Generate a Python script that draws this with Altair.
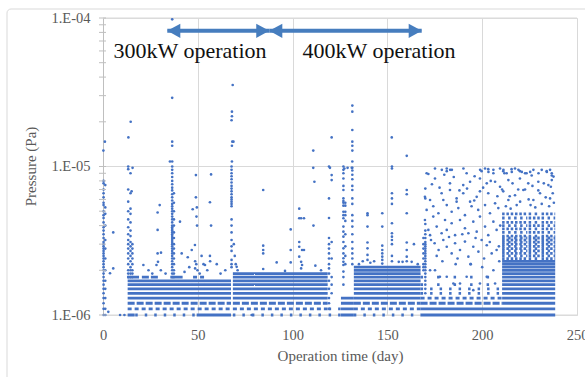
import altair as alt
import pandas as pd

# ---------------- data (pressure values in units of 1e-6 Pa) ----------------
x_tick_values = [0, 50, 100, 150, 200, 250]
y_decades = [1.0, 10.0, 100.0]
y_tick_marks = [1, 2, 3, 4, 5, 6, 7, 8, 9, 10, 20, 30, 40, 50, 60, 70, 80, 90, 100]

# quantised readings forming horizontal bands: (start day, end day, levels, style)
bands = [
    # 300 kW operation
    (13.0, 67.5, [1.3, 1.4, 1.5, 1.6, 1.7], "solid"),
    (13.0, 67.5, [1.2], "dash"),
    (13.0, 67.5, [1.1], "dash2"),
    (13.0, 16.7, [1.0], "solid"),
    (17.0, 49.0, [1.0], "sparse"),
    (49.4, 67.5, [1.0], "solid"),
    (12.8, 19.0, [1.8], "solid"),
    (20.5, 29.5, [1.8], "dash"),
    (35.5, 42.0, [1.8], "solid"),
    (47.5, 54.0, [1.8], "dash2"),
    # 400 kW operation, first part
    (68.5, 118.5, [1.3, 1.4, 1.5, 1.6, 1.7, 1.8, 1.9], "solid"),
    (68.5, 118.5, [1.2], "dash"),
    (68.5, 118.5, [1.1], "dash2"),
    (68.5, 118.5, [1.0], "sparse"),
    (119.0, 125.5, [1.0, 1.1], "sparse"),
    (125.5, 132.3, [1.0, 1.1, 1.2, 1.3], "solid"),
    # 400 kW operation, second part
    (132.3, 167.5, [1.3, 1.4, 1.5, 1.6, 1.7, 1.8, 1.9, 2.0, 2.1], "solid"),
    (132.3, 167.5, [1.2], "dash"),
    (132.3, 167.5, [1.1], "dash2"),
    (132.3, 167.5, [1.0], "sparse"),
    # after day 167
    (167.5, 238.5, [1.0, 1.1], "solid"),
    (167.5, 210.5, [1.2], "dash"),
    (167.5, 210.5, [1.3], "dash2"),
    (167.5, 210.5, [1.4, 1.5], "sparse"),
    (167.5, 210.5, [1.6, 1.8], "sparser"),
    (210.5, 238.5, [1.2, 1.3, 1.4, 1.5, 1.6, 1.7, 1.8, 1.9, 2.0, 2.1, 2.2, 2.3], "solid"),
    (210.5, 223.8, [2.4, 2.6, 2.8, 3.0, 3.2, 3.4, 3.8, 4.2, 4.8], "speck"),
    (210.5, 223.8, [2.5, 2.7, 2.9, 3.1, 3.3, 3.6, 4.0, 4.5], "speck2"),
    (224.5, 230.6, [2.4, 2.6, 2.8, 3.0, 3.2, 3.4, 3.8, 4.2, 4.8], "speck2"),
    (224.5, 230.6, [2.5, 2.7, 2.9, 3.1, 3.3, 3.6, 4.0, 4.5], "speck"),
    (231.3, 238.5, [2.4, 2.6, 2.8, 3.0, 3.2, 3.4, 3.8, 4.2, 4.8], "speck"),
    (231.3, 238.5, [2.5, 2.7, 2.9, 3.1, 3.3, 3.6, 4.0, 4.5], "speck2"),
]

# vertical bursts of readings: (day, values)
spikes = [
    (0.3, [8.0, 7.7, 7.0, 6.6, 6.2, 5.7, 5.5, 5.0, 4.7, 4.5, 4.2, 3.9, 3.7, 3.5, 3.3, 3.1, 3.0,
           2.9, 2.8, 2.7, 2.6, 2.5, 2.4, 2.3, 2.2, 2.1, 2.0, 1.9, 1.8, 1.7, 1.6, 1.5, 1.4, 1.3,
           1.2, 1.1, 1.0]),
    (1.2, [7.5, 5.3, 4.8, 4.0, 3.2, 2.8, 2.4, 2.0, 1.7, 1.5, 1.3, 1.1, 1.0]),
    (13.3, [10.0, 9.6, 7.0, 5.8, 5.0, 4.4, 3.9, 3.5, 3.2, 3.0, 2.8, 2.6, 2.4, 2.2, 2.0, 1.9, 1.8]),
    (14.5, [9.0, 6.6, 5.2, 4.8, 4.2, 3.7, 3.4, 3.1, 2.9, 2.7, 2.5, 2.3, 2.1, 2.0, 1.9, 1.8]),
    (15.5, [3.0, 2.8, 2.6, 2.4, 2.2, 2.0, 1.9, 1.8]),
    (36.5, [10.0, 9.5, 9.0, 8.5, 8.0, 7.6, 7.2, 6.9, 6.5, 6.2, 5.9, 5.6, 5.4, 5.2, 5.0, 4.8, 4.6,
            4.4, 4.2, 4.0, 3.9, 3.8, 3.7, 3.6, 3.5, 3.4, 3.3, 3.2, 3.1, 3.0, 2.9, 2.8, 2.7, 2.6,
            2.5, 2.4, 2.3, 2.2, 2.1, 2.0, 1.9, 1.8]),
    (37.4, [6.6, 5.7, 5.0, 4.4, 4.0, 3.6, 3.3, 3.0, 2.8, 2.6, 2.4, 2.2, 2.0, 1.9, 1.8]),
    (67.8, [10.0, 9.5, 9.0, 8.6, 8.2, 7.8, 7.4, 7.1, 6.8, 6.5, 6.2, 6.0, 5.8, 5.6, 5.4, 4.4,
            4.0, 3.6, 3.2, 2.9, 2.7, 2.35, 2.2, 2.1]),
    (119.2, [10.0, 6.1, 4.5, 3.3, 3.0, 2.8, 2.6, 2.4, 2.2, 2.06, 1.9, 1.7, 1.5, 1.3, 1.2, 1.1]),
    (120.6, [8.75, 8.1, 3.1, 2.4, 1.8, 1.6, 1.4]),
    (126.8, [10.0, 9.5, 9.0, 8.3, 7.4, 6.95, 6.1, 5.85, 5.7, 5.45, 4.96, 4.7, 4.48, 3.94, 3.64,
             3.37, 3.1, 2.81, 2.6, 2.41, 2.28, 2.17, 1.96, 1.8, 1.6]),
    (127.8, [5.7, 5.45, 4.96, 4.7, 4.3, 3.5, 2.9, 2.5, 2.2]),
    (131.5, [25.7, 23.4, 17.6, 14.7, 13.8, 12.8, 10.8, 9.8, 9.4, 8.8, 8.2, 7.4, 6.95, 6.1, 5.6,
             4.7, 4.3, 3.94, 3.5, 3.1, 2.8, 2.6, 2.4, 2.2]),
    (139.5, [4.84, 4.7, 3.94, 3.08, 2.81, 2.54, 2.35]),
    (147.3, [4.84, 3.94, 2.93, 2.74, 2.6, 2.47, 2.35, 2.22]),
    (152.4, [10.0, 9.7, 6.6, 6.1, 5.6, 4.15, 3.55, 3.37, 3.2, 3.0, 2.5, 2.3]),
    (160.2, [11.8, 6.95, 6.5, 4.84, 3.08, 2.74, 2.47, 2.3]),
    (169.0, [3.3, 3.0, 2.8, 2.6, 2.4, 2.2, 2.1, 2.0]),
    (170.0, [7.1, 6.1, 4.1, 3.7, 3.5, 3.3, 3.1, 3.0, 2.9, 2.8, 2.7, 2.6, 2.5, 2.4, 2.3, 2.2, 2.1,
             2.0, 1.9, 1.8, 1.7, 1.6, 1.5, 1.4]),
]

# isolated readings: (day, value)
scatter = [
    (0.2, 12.8), (1.0, 14.7), (2.8, 1.05), (3.7, 1.91), (5.4, 2.06), (5.4, 3.6), (9.0, 1.0),
    (11.3, 1.0), (13.4, 15.7), (14.6, 20.0), (15.6, 9.8), (15.1, 6.8),
    (36.5, 98.0), (36.5, 29.0), (36.5, 14.7), (36.5, 13.8), (36.5, 10.8), (35.3, 10.8),
    (21.3, 2.17), (24.0, 2.0), (28.2, 2.17), (29.0, 2.28), (28.8, 2.6), (30.6, 2.63),
    (29.9, 5.5), (28.8, 4.9), (28.8, 3.74), (30.5, 2.0), (33.0, 1.9), (26.0, 1.9),
    (40.6, 4.25), (41.5, 2.6), (44.7, 2.45), (46.8, 2.74), (48.5, 2.96), (47.3, 5.15),
    (49.0, 8.75), (49.0, 6.2), (49.5, 5.3), (49.3, 4.6), (49.6, 4.0), (48.6, 2.3), (49.2, 2.2),
    (48.6, 2.06), (49.8, 2.0), (51.0, 1.9), (52.0, 2.5), (53.0, 2.2), (53.8, 2.17), (55.0, 2.0),
    (57.0, 8.85), (56.4, 5.74), (57.0, 4.0), (56.4, 2.5), (56.5, 2.3), (60.0, 2.2), (62.0, 1.9),
    (64.5, 2.0), (43.0, 1.95), (45.5, 2.1),
    (68.4, 35.4), (68.0, 23.4), (68.0, 21.8), (67.8, 20.5), (68.2, 14.7), (68.8, 14.7),
    (68.0, 13.8), (68.0, 10.8), (69.0, 3.0), (69.5, 2.5), (70.0, 2.2), (70.5, 2.11), (71.0, 2.0),
    (78.4, 1.0), (84.5, 6.95), (84.5, 2.93), (84.5, 2.74), (84.5, 2.6), (84.5, 2.04),
    (91.6, 2.26), (96.0, 1.98), (99.0, 3.77), (99.0, 2.74), (99.0, 2.26),
    (103.5, 5.2), (103.5, 4.48), (104.5, 4.48), (103.5, 3.1), (103.5, 2.88), (105.0, 2.74),
    (106.0, 2.74), (103.5, 2.47), (104.5, 2.28), (105.0, 2.17), (104.5, 2.06), (106.0, 4.48),
    (110.9, 12.8), (110.9, 9.8), (111.5, 7.9), (111.0, 4.0), (112.0, 2.15), (115.0, 2.0),
    (119.7, 9.8), (120.6, 15.7), (127.3, 9.7), (129.0, 9.8), (131.2, 9.8),
    (135.0, 2.2), (137.0, 2.3), (141.0, 2.25), (143.0, 2.3), (152.3, 15.7), (156.0, 2.28),
    (158.0, 2.28), (162.8, 2.28), (166.0, 2.2), (164.0, 3.0),
    # after day 167: ceiling row near 1e-5
    (175.1, 9.7), (178.7, 9.5), (181.3, 9.7), (183.1, 9.5), (190.1, 9.7), (198.9, 9.5),
    (201.5, 9.7), (203.3, 9.2), (205.9, 9.5), (209.4, 9.7), (211.2, 9.5), (211.7, 9.0),
    (215.6, 9.2), (217.3, 9.7), (219.1, 9.5), (220.9, 9.2), (222.6, 9.0), (225.3, 9.2),
    (227.0, 9.5), (229.7, 9.0), (231.4, 9.5), (234.1, 9.2), (235.8, 9.5), (236.7, 9.0),
    (170.7, 9.0), (171.6, 8.9), (181.3, 9.3), (184.0, 9.5), (191.8, 9.0), (199.7, 9.3),
    (203.2, 9.6), (205.9, 9.0), (211.1, 9.3), (212.9, 9.0), (215.5, 9.6), (219.9, 9.3),
    (223.4, 9.0), (226.1, 8.7), (234.0, 9.3), (236.7, 8.7), (237.6, 8.55),
    (175.1, 8.3), (183.0, 7.7), (190.0, 7.5), (193.6, 7.9), (198.8, 8.3), (202.4, 7.7),
    (206.8, 7.9), (209.4, 7.3), (213.8, 8.1), (219.9, 8.3), (224.3, 7.7), (229.6, 7.9),
    (234.9, 7.5), (236.7, 8.1),
    (169.8, 6.25), (172.5, 5.95), (178.6, 6.6), (179.5, 5.95), (183.0, 6.95), (186.5, 6.1),
    (190.0, 6.6), (193.6, 5.8), (197.1, 6.25), (198.8, 6.8), (203.2, 6.6), (206.8, 5.65),
    (211.1, 6.8), (213.8, 5.95), (217.3, 6.4), (221.7, 6.95), (227.0, 5.95), (230.5, 6.6),
    (235.8, 6.1),
    (210.5, 7.0), (214.5, 6.3), (216.0, 7.7), (218.2, 5.5), (220.0, 5.8), (222.6, 7.0),
    (224.5, 6.0), (226.5, 7.4), (228.0, 5.3), (229.6, 6.9), (231.4, 5.6), (232.5, 7.7),
    (233.5, 6.2), (235.3, 5.4), (237.2, 6.6), (237.8, 5.7), (236.2, 7.3), (212.5, 5.4),
    (215.0, 5.2), (219.0, 7.0), (225.5, 5.5),
    (170.7, 5.1), (174.2, 5.4), (176.9, 4.84), (181.3, 5.5), (183.9, 4.96), (187.4, 5.25),
    (190.9, 4.7), (194.4, 5.4), (197.9, 5.1), (201.5, 5.5), (204.1, 4.84), (208.5, 5.25),
    (169.8, 4.36), (171.6, 3.74), (172.5, 3.45), (174.2, 4.6), (176.0, 3.94), (178.6, 3.55),
    (180.4, 4.36), (181.3, 3.74), (183.9, 4.15), (185.7, 3.45), (188.3, 4.36), (190.9, 3.84),
    (192.7, 3.55), (195.3, 4.25), (197.1, 3.64), (198.8, 4.6), (201.5, 3.94), (203.2, 3.45),
    (205.9, 4.25), (207.6, 3.74),
    (174.9, 3.04), (177.0, 2.74), (176.0, 2.5), (179.5, 3.2), (181.3, 2.88), (183.9, 2.6),
    (185.7, 3.04), (188.3, 2.74), (190.9, 3.12), (192.7, 2.47), (195.3, 2.88), (198.0, 2.67),
    (199.7, 3.2), (202.4, 2.95), (205.0, 2.6), (207.6, 2.74),
    (172.5, 2.0), (175.1, 2.0), (177.7, 1.81), (181.3, 1.81), (184.8, 1.63), (188.3, 1.63),
    (191.8, 1.81), (195.3, 1.47), (198.8, 1.63), (202.4, 1.81), (205.9, 2.0), (206.8, 1.63),
    (186.0, 2.2), (194.0, 2.2), (200.0, 2.1),
    (173.5, 7.6), (177.5, 7.2), (180.0, 8.8), (185.0, 8.5), (188.0, 6.9), (192.0, 7.1),
    (196.0, 8.6), (200.5, 7.2), (204.5, 8.0), (208.0, 6.3), (186.5, 5.8), (195.8, 5.9),
    (173.0, 3.2), (179.0, 2.3), (182.5, 3.35), (187.0, 2.4), (189.5, 3.5), (193.8, 2.2),
    (196.5, 3.3), (201.0, 2.4), (204.0, 3.1), (208.8, 2.9), (209.5, 4.0), (209.0, 2.3),
]

# annotations
ann_text = ["300kW operation", "400kW operation"]
ann_day = [45.9, 145.6]
ann_val = [60.0, 60.0]
arrow_start = [33.9, 87.7]
arrow_end = [87.7, 168.1]
arrow_val = [82.0, 82.0]

# ---------------- tables ----------------
band_rows = []
for d0, d1, levels, style in bands:
    for lv in levels:
        band_rows.append({"day": d0, "day_end": d1, "p": lv * 1e-6, "style": style})
band_df = pd.DataFrame(band_rows)

pt_rows = []
for d, vals in spikes:
    for v in vals:
        pt_rows.append({"day": d, "p": v * 1e-6})
for d, v in scatter:
    pt_rows.append({"day": d, "p": v * 1e-6})
pt_df = pd.DataFrame(pt_rows)

grid_df = pd.DataFrame({"p": [v * 1e-6 for v in y_decades]})
tick_df = pd.DataFrame({"p": [v * 1e-6 for v in y_tick_marks]})
ann_df = pd.DataFrame({"day": ann_day, "p": [v * 1e-6 for v in ann_val], "label": ann_text})
arrow_df = pd.DataFrame({"day": arrow_start, "day_end": arrow_end,
                         "p": [v * 1e-6 for v in arrow_val]})
head_left_df = pd.DataFrame({"day": arrow_start, "p": [v * 1e-6 for v in arrow_val]})
head_right_df = pd.DataFrame({"day": arrow_end, "p": [v * 1e-6 for v in arrow_val]})
frame_df = pd.DataFrame({"k": [0]})

# ---------------- encodings ----------------
SERIF = "Liberation Serif, Times New Roman, serif"
BLUE = "#4472C4"
ARROW = "#467DBE"
GRID = "#d9d9d9"

xscale = alt.Scale(domain=[0, 250], nice=False, zero=False)
yscale = alt.Scale(type="log", domain=[1e-6, 1e-4], nice=False)

xaxis = alt.Axis(values=x_tick_values, grid=True, gridColor=GRID, domain=False, ticks=False,
                 tickSize=0, labelFlush=False, labelOverlap=False,
                 labelFont=SERIF, labelFontSize=14.5, labelColor="#595959",
                 labelPadding=13, title="Operation time (day)", titleFont=SERIF,
                 titleFontSize=15, titleFontWeight="normal", titleColor="#595959",
                 titleX=237, titleY=40, titleAlign="center", titleBaseline="middle")
yaxis = alt.Axis(values=[v * 1e-6 for v in y_decades], grid=False, domain=True,
                 domainColor="#bfbfbf", ticks=False, tickSize=0, labelFlush=False,
                 labelOverlap=False,
                 labelExpr="datum.value < 5e-6 ? '1.E-06' : (datum.value < 5e-5 ? '1.E-05' : '1.E-04')",
                 labelFont=SERIF, labelFontSize=14.5, labelColor="#595959", labelPadding=13,
                 title="Pressure (Pa)", titleFont=SERIF, titleFontSize=15,
                 titleFontWeight="normal", titleColor="#595959", titleAngle=270,
                 titleX=-73, titleY=148, titleAlign="center", titleBaseline="middle")

X = alt.X("day:Q", scale=xscale, axis=xaxis)
Y = alt.Y("p:Q", scale=yscale, axis=yaxis)

frame = alt.Chart(frame_df).mark_rect(fillOpacity=0, stroke=GRID, strokeWidth=1,
                                      cornerRadius=4).encode(
    x=alt.value(-96), x2=alt.value(610), y=alt.value(-9), y2=alt.value(420))

hgrid = alt.Chart(grid_df).mark_rule(color=GRID, strokeWidth=1).encode(y=Y)

band_layer = alt.Chart(band_df).mark_rule(color=BLUE, strokeWidth=2.8, strokeCap="butt").encode(
    x=X, x2="day_end:Q", y=Y,
    strokeDash=alt.StrokeDash("style:N", legend=None, scale=alt.Scale(
        domain=["solid", "dash", "dash2", "sparse", "sparser", "speck", "speck2"],
        range=[[1, 0], [7, 2], [4, 3], [2.5, 7], [2.5, 14], [2.5, 1.8], [2.5, 3.5]])))

points = alt.Chart(pt_df).mark_circle(color=BLUE, size=7, opacity=1).encode(x=X, y=Y)

ticks = alt.Chart(tick_df).mark_rule(color="#bfbfbf", strokeWidth=1).encode(
    y=Y, x=alt.value(-4), x2=alt.value(3))

shafts = alt.Chart(arrow_df).mark_rule(color=ARROW, strokeWidth=4).encode(
    x=X, x2="day_end:Q", y=Y)
heads_left = alt.Chart(head_left_df).mark_point(
    shape="M0,0L2,-1.1L2,1.1Z", filled=True, size=170, color=ARROW, opacity=1,
    strokeWidth=0).encode(x=X, y=Y)
heads_right = alt.Chart(head_right_df).mark_point(
    shape="M0,0L-2,-1.1L-2,1.1Z", filled=True, size=170, color=ARROW, opacity=1,
    strokeWidth=0).encode(x=X, y=Y)

labels = alt.Chart(ann_df).mark_text(font=SERIF, fontSize=22, align="center",
                                     baseline="middle", color="#111111").encode(
    x=X, y=Y, text="label:N")

chart = alt.layer(frame, hgrid, band_layer, points, ticks, shafts, heads_left, heads_right,
                  labels).properties(
    width=474, height=297,
    autosize=alt.AutoSizeParams(type="none"),
    padding={"left": 103, "top": 18, "right": 8, "bottom": 62},
).configure_view(stroke=None).configure(background="white")

chart.save("out.html", embed_options={"renderer": "svg", "actions": False})
